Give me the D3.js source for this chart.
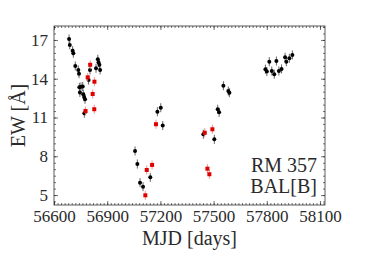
<!DOCTYPE html>
<html>
<head>
<meta charset="utf-8">
<script src="https://cdn.jsdelivr.net/npm/d3@7"></script>
<style>
  body { margin: 0; background: #fff; }
  text { font-family: "Liberation Serif", "DejaVu Serif", serif; fill: #2a2a2a; }
</style>
</head>
<body>
<svg id="chart" width="385" height="260"></svg>
<script>
const WIDTH = 385, HEIGHT = 260;
const MARGIN_LEFT = 54, MARGIN_RIGHT = 60, MARGIN_TOP = 26, MARGIN_BOT = 55;

// black points (all epochs)
const blackMjd = [56685, 56689, 56705, 56709, 56720, 56737, 56741, 56743, 56752, 56762,
                  56746, 56765, 56770, 56775, 56771, 56795, 56803, 56837, 56847, 56851,
                  56856, 56860,
                  57057, 57070, 57085, 57102, 57143, 57213, 57183, 57202,
                  57442, 57504, 57523, 57531, 57555, 57583, 57589,
                  57792, 57800, 57814, 57828, 57842, 57854, 57868, 57883, 57903, 57910, 57927, 57944];
const blackEw  = [17.08, 16.61, 16.17, 15.97, 14.99, 14.68, 14.39, 13.34, 13.37, 13.40,
                  12.94, 12.80, 12.59, 12.41, 11.33, 13.90, 14.68, 14.81, 15.51, 15.27,
                  15.08, 14.68,
                  8.41, 7.40, 5.96, 5.65, 6.37, 10.38, 11.45, 11.76,
                  9.70, 9.31, 11.64, 11.40, 13.46, 13.05, 12.92,
                  14.74, 14.55, 15.32, 14.60, 14.35, 15.37, 14.60, 14.76, 15.66, 15.32, 15.58, 15.84];
const blackErr = 0.35;

// red points
const redMjd = [56778, 56790, 56804, 56818, 56828, 56827,
                57115, 57123, 57153, 57175,
                57450, 57493, 57465, 57476];
const redEw  = [11.50, 14.11, 15.08, 12.82, 13.77, 11.64,
                4.98, 6.94, 7.33, 10.48,
                9.82, 10.09, 7.04, 6.61];
const redErr = 0.35;

const xTicks = [56600, 56900, 57200, 57500, 57800, 58100];
const yTicks = [5, 8, 11, 14, 17];
const labels = ["RM 357", "BAL[B]"];

const svg = d3.select("#chart");
svg.append("rect").attr("width", WIDTH).attr("height", HEIGHT).attr("fill", "#fff");

const w = WIDTH - MARGIN_LEFT - MARGIN_RIGHT,
      h = HEIGHT - MARGIN_TOP - MARGIN_BOT;

const xScale = d3.scaleLinear().domain([56600, 58128]).range([MARGIN_LEFT, MARGIN_LEFT + w]);
const yScale = d3.scaleLinear().domain([4.23, 18.08]).range([MARGIN_TOP + h, MARGIN_TOP]);

const xMinor = d3.range(56600, 58128, 20);
const yMinor = d3.range(4.5, 18.01, 0.5);

// ticks pointing inward, on all four sides
function drawAxis(axis, shift) {
	const g = svg.append("g").attr("transform", shift).call(axis);
	g.select(".domain").remove();
	g.selectAll("line").attr("stroke", "#333").attr("stroke-width", 0.7);
	return g;
}
const fmt = d3.format("d");
drawAxis(d3.axisBottom(xScale).tickValues(xMinor).tickSize(-2).tickFormat(""), `translate(0,${MARGIN_TOP + h})`);
drawAxis(d3.axisTop(xScale).tickValues(xMinor).tickSize(-2).tickFormat(""), `translate(0,${MARGIN_TOP})`);
drawAxis(d3.axisLeft(yScale).tickValues(yMinor).tickSize(-2).tickFormat(""), `translate(${MARGIN_LEFT},0)`);
drawAxis(d3.axisRight(yScale).tickValues(yMinor).tickSize(-2).tickFormat(""), `translate(${MARGIN_LEFT + w},0)`);

const xb = drawAxis(d3.axisBottom(xScale).tickValues(xTicks).tickSize(-4).tickPadding(5).tickFormat(fmt), `translate(0,${MARGIN_TOP + h})`);
drawAxis(d3.axisTop(xScale).tickValues(xTicks).tickSize(-4).tickFormat(""), `translate(0,${MARGIN_TOP})`);
const yl = drawAxis(d3.axisLeft(yScale).tickValues(yTicks).tickSize(-4).tickPadding(6).tickFormat(fmt), `translate(${MARGIN_LEFT},0)`);
drawAxis(d3.axisRight(yScale).tickValues(yTicks).tickSize(-4).tickFormat(""), `translate(${MARGIN_LEFT + w},0)`);

xb.selectAll("text").attr("font-size", 17).attr("font-family", "Liberation Serif").attr("fill", "#2a2a2a");
yl.selectAll("text").attr("font-size", 17).attr("font-family", "Liberation Serif").attr("fill", "#2a2a2a");

// frame
svg.append("rect")
	.attr("x", MARGIN_LEFT).attr("y", MARGIN_TOP)
	.attr("width", w).attr("height", h)
	.attr("fill", "none").attr("stroke", "#333").attr("stroke-width", 0.8);

// axis labels
svg.append("text")
	.attr("x", MARGIN_LEFT + w / 2).attr("y", 245)
	.attr("text-anchor", "middle").attr("font-size", 20)
	.text("MJD [days]");
svg.append("text")
	.attr("transform", `translate(25,${MARGIN_TOP + h / 2}) rotate(-90)`)
	.attr("text-anchor", "middle").attr("font-size", 20)
	.text("EW [Å]");

// black points with error bars
const black = d3.range(blackMjd.length);
svg.selectAll(".ebk").data(black).enter().append("line")
	.attr("x1", i => xScale(blackMjd[i])).attr("x2", i => xScale(blackMjd[i]))
	.attr("y1", i => yScale(blackEw[i] - blackErr)).attr("y2", i => yScale(blackEw[i] + blackErr))
	.attr("stroke", "#555").attr("stroke-width", 0.9);
svg.selectAll(".dot").data(black).enter().append("circle")
	.attr("cx", i => xScale(blackMjd[i])).attr("cy", i => yScale(blackEw[i]))
	.attr("r", 2).attr("fill", "#000");

// red points
const red = d3.range(redMjd.length);
svg.selectAll(".erd").data(red).enter().append("line")
	.attr("x1", i => xScale(redMjd[i])).attr("x2", i => xScale(redMjd[i]))
	.attr("y1", i => yScale(redEw[i] - redErr)).attr("y2", i => yScale(redEw[i] + redErr))
	.attr("stroke", "#e88").attr("stroke-width", 0.9);
svg.selectAll(".sq").data(red).enter().append("rect")
	.attr("x", i => xScale(redMjd[i]) - 2).attr("y", i => yScale(redEw[i]) - 2)
	.attr("width", 4).attr("height", 4).attr("fill", "#e00000");

// label in the corner
svg.selectAll(".lbl").data(labels).enter().append("text")
	.attr("x", 317).attr("y", (d, i) => 172 + i * 21)
	.attr("text-anchor", "end").attr("font-size", 20)
	.text(d => d);
</script>
</body>
</html>
